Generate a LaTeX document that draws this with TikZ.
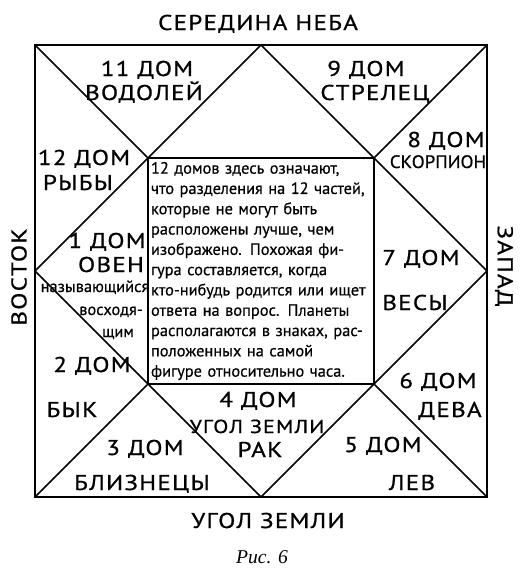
\documentclass[tikz,border=0pt]{standalone}
\usepackage{fontspec}
\setmainfont[FakeBold=0.5]{PT Sans}
\newfontfamily\domfont[FakeStretch=1.17, LetterSpace=6, FakeBold=0.8]{PT Sans}
\newfontfamily\tightfont[FakeStretch=1.05, FakeBold=0.8]{PT Sans}
\newfontfamily\captionfont{Liberation Serif}
\usetikzlibrary{positioning}

\begin{document}
\begin{tikzpicture}[
  x=0.5pt, y=-0.5pt,
  rule/.style={draw=black, line width=0.8pt},
  dom/.style={font=\domfont\fontsize{10.7}{12}\selectfont, inner sep=0pt, anchor=base},
  domsmall/.style={font=\domfont\fontsize{9.4}{11}\selectfont, inner sep=0pt, anchor=base},
  aside/.style={font=\fontsize{8.2}{10}\selectfont, inner sep=0pt, anchor=base},
  side/.style={font=\domfont\fontsize{10.7}{12}\selectfont, inner sep=0pt},
  notebox/.style={draw=black, line width=0.8pt, minimum width=113pt, minimum height=113pt,
                  text width=110pt, inner sep=1.2pt, align=left,
                  font=\fontsize{8.2}{10.15}\selectfont}
]
\useasboundingbox (0,0) rectangle (527,568);

\coordinate (nw) at (35,45);
\coordinate (ne) at (487,45);
\coordinate (se) at (487,497);
\coordinate (sw) at (35,497);
\coordinate (n) at (261,45);
\coordinate (e) at (487,271);
\coordinate (s) at (261,497);
\coordinate (w) at (35,271);

\node[notebox] (note) at (261,271) {12 домов здесь означают,\\
что разделения на 12 частей,\\
которые не могут быть\\
расположены лучше, чем\\
изображено. Похожая фи-\\
гура составляется, когда\\
кто-нибудь родится или ищет\\
ответа на вопрос. Планеты\\
располагаются в знаках, рас-\\
положенных на самой\\
фигуре относительно часа.};

\draw[rule, line width=1pt] (nw) -- (ne) -- (se) -- (sw) -- cycle;
\draw[rule] (n) -- (e) -- (s) -- (w) -- cycle;
\draw[rule] (nw) -- (note.north west);
\draw[rule] (ne) -- (note.north east);
\draw[rule] (se) -- (note.south east);
\draw[rule] (sw) -- (note.south west);

% sides of the horizon
\node[dom] (top) at (258,30) {СЕРЕДИНА НЕБА};
\node[dom] (bottom) at (268,528) {УГОЛ ЗЕМЛИ};
\node[side, rotate=90] (east) at (19,277) {ВОСТОК};
\node[side, rotate=-90] (west) at (504,266) {ЗАПАД};

% houses
\node[dom] (h11) at (147,76) {11 ДОМ};
\node[dom] (s11) at (144,100) {ВОДОЛЕЙ};
\node[dom] (h9) at (366,76) {9 ДОМ};
\node[dom] (s9) at (375,100) {СТРЕЛЕЦ};
\node[dom] (h8) at (446,147) {8 ДОМ};
\node[domsmall, font=\tightfont\fontsize{9}{10}\selectfont] (s8) at (438,168) {СКОРПИОН};
\node[dom] (h12) at (84,165) {12 ДОМ};
\node[dom] (s12) at (78,190) {РЫБЫ};
\node[dom] (h1) at (107,248) {1 ДОМ};
\node[dom] (s1) at (111,272) {ОВЕН};
\node[aside] (a1) at (95,292) {называющийся};
\node[aside] (b1) at (111,315) {восходя-};
\node[aside] (c1) at (118,337) {щим};
\node[dom] (h2) at (92,372) {2 ДОМ};
\node[dom] (s2) at (72,417) {БЫК};
\node[dom] (h3) at (145,455) {3 ДОМ};
\node[dom] (s3) at (142,490) {БЛИЗНЕЦЫ};
\node[dom] (h4) at (258,407) {4 ДОМ};
\node[domsmall] (a4) at (257,433) {УГОЛ ЗЕМЛИ};
\node[dom] (s4) at (260,457) {РАК};
\node[dom] (h5) at (383,452) {5 ДОМ};
\node[dom] (s5) at (412,490) {ЛЕВ};
\node[dom] (h6) at (438,388) {6 ДОМ};
\node[dom] (s6) at (450,417) {ДЕВА};
\node[dom] (h7) at (421,265) {7 ДОМ};
\node[dom] (s7) at (415,310) {ВЕСЫ};

\node[font=\captionfont\itshape\fontsize{9.8}{12}\selectfont, inner sep=0pt, anchor=base] (fig) at (262,563) {Рис. 6};
\end{tikzpicture}
\end{document}
